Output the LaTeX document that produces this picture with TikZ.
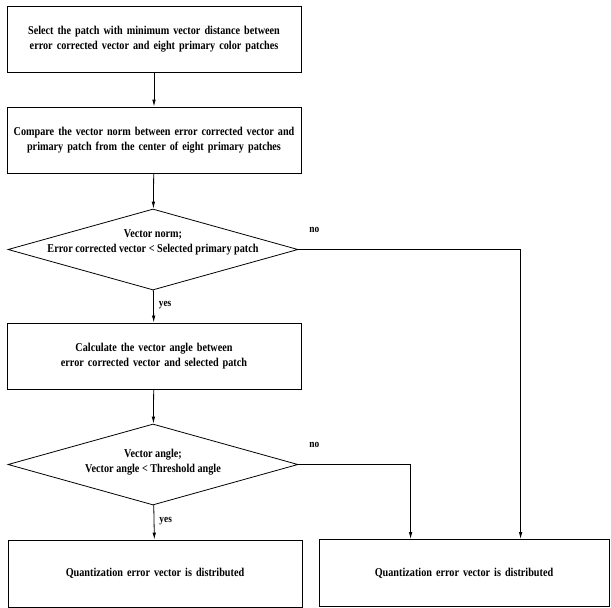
\documentclass[tikz,border=0pt]{standalone}
\usepackage{fontspec}
\setmainfont{Liberation Serif}[FakeStretch=0.85]
\usepackage{tikz}
\usetikzlibrary{arrows.meta,shapes.geometric,positioning}
\tikzset{
	>={Latex[length=7pt,width=3.5pt]},
	flow/.style={->, line width=0.8pt},
	process/.style={draw, line width=0.8pt, inner sep=0pt,
		minimum width=294pt, minimum height=66pt,
		text width=285pt, align=center,
		font=\bfseries\fontsize{12}{14.5}\selectfont},
	decision/.style={draw, diamond, line width=0.8pt, inner sep=0pt, aspect=3.6,
		minimum width=290pt, minimum height=81pt},
	dtext/.style={inner sep=0pt, align=center,
		font=\bfseries\fontsize{12}{15}\selectfont},
	lbl/.style={inner sep=1pt, font=\bfseries\fontsize{11}{12}\selectfont},
}

\begin{document}
\begin{tikzpicture}[x=1pt, y=-1pt]
	\useasboundingbox (0,0) rectangle (611,608);

	\node[process] (select) at (154,39) {Select the patch with minimum vector distance between\\error corrected vector and eight primary color patches};
	\node[process] (compare) at (154,140) {Compare the vector norm between error corrected vector and\\primary patch from the center of eight primary patches};
	\node[decision] (norm) at (153,249.5) {};
	\node[dtext] (normtxt) at ([yshift=7pt]norm.center) {Vector norm;\\Error corrected vector < Selected primary patch};
	\node[process] (angle) at (154,356) {Calculate the vector angle between\\error corrected vector and selected patch};
	\node[decision] (thresh) at (153,464.5) {};
	\node[dtext] (threshtxt) at ([yshift=2pt]thresh.center) {Vector angle;\\Vector angle < Threshold angle};
	\node[process, minimum height=67pt] (distA) at (155,573.5) {Quantization error vector is distributed};
	\node[process, minimum height=67pt, minimum width=290pt] (distB) at (464,573) {Quantization error vector is distributed};

	% entry points on the right box
	\path (distB.north west) ++(92,0) coordinate (inA);
	\path (distB.north west) ++(202,0) coordinate (inB);

	\draw[flow] (select) -- (compare);
	\draw[flow] (compare) -- (norm);
	\draw[flow] (norm) -- node[lbl, right, pos=0.45, xshift=4pt] {yes} (angle);
	\draw[flow] (angle) -- (thresh);
	\draw[flow] (thresh) -- node[lbl, right, pos=0.45, xshift=4pt] {yes} (distA);

	\draw[flow] (norm.east) -| (inB);
	\draw[flow] (thresh.east) -| (inA);
	\node[lbl] (no1) at ([shift={(16,-20)}]norm.east) {no};
	\node[lbl] (no2) at ([shift={(16,-20)}]thresh.east) {no};
\end{tikzpicture}
\end{document}
